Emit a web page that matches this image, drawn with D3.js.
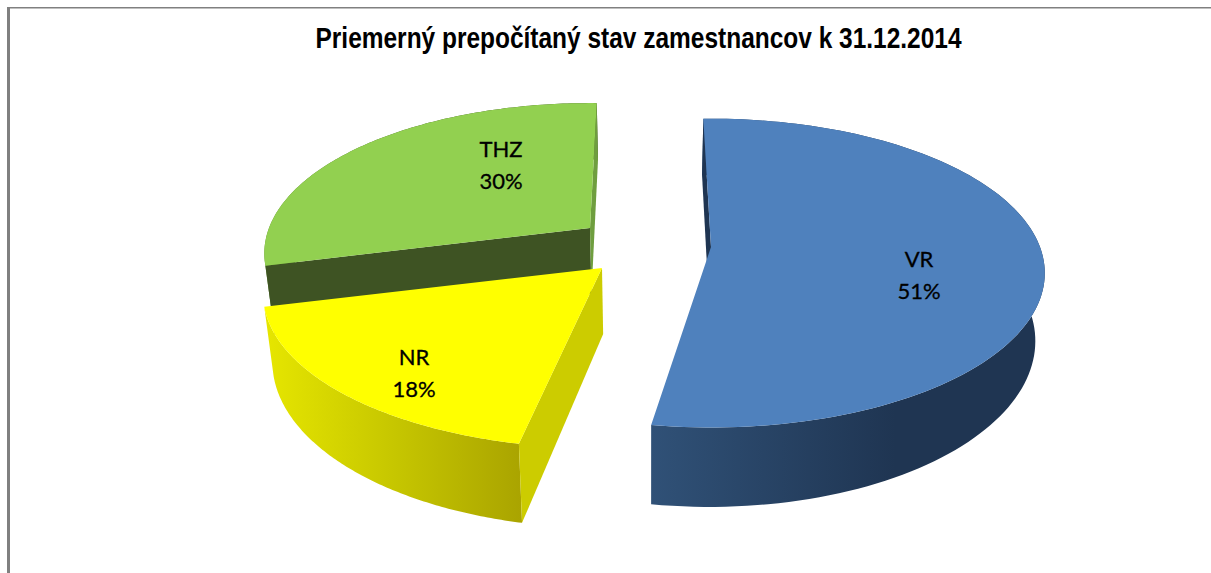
<!DOCTYPE html>
<html>
<head>
<meta charset="utf-8">
<script src="https://cdn.jsdelivr.net/npm/d3@7/dist/d3.min.js"></script>
<style>
  html, body { margin: 0; padding: 0; background: #fff; overflow: hidden; }
  svg { display: block; }
</style>
</head>
<body>
<script>
const titleText = "Priemerný prepočítaný stav zamestnancov k 31.12.2014";
const categories = ["VR", "NR", "THZ"];
const percentValues = [51, 18, 30];

const width = 1211, height = 573;

// Fake 3D view: perspective, wall height
const view = { persp: 0.169, depth: 66, vanishX: 650, lean: 0.024 };

// Exploded position of each slice, and small angle fixes to follow the Excel projection
const sliceFit = {
  VR:  { apex: [711, 247], radius: 329, tilt: 150, turn: 0.85, stretch: 1.026, label: [919, 275],
         top: "#4f81bd", cut: "#1f3552", side: "#1f3552", stops: ["#305177", "#1f3552", "#1f3552"], stopAt: [0, 0.62, 1], wallX: [651, 1045] },
  NR:  { apex: [602, 268], radius: 334, tilt: 150, turn: 5.65, stretch: 0.973, label: [414, 373],
         top: "#ffff00", cut: "#cccc00", side: "#cccc00", stops: ["#e6e600", "#c6c600", "#a9a300"], stopAt: [0, 0.5, 1], wallX: [265, 525] },
  THZ: { apex: [590, 228], radius: 321, tilt: 146, turn: 3.1, stretch: 0.969, label: [501, 165],
         top: "#92d050", cut: "#3e5323", side: "#6f9e3f", stops: ["#5c8a30", "#3e5323", "#3e5323"], stopAt: [0, 0.5, 1], wallX: [266, 597] }
};

const svg = d3.select("body").append("svg")
  .attr("width", width)
  .attr("height", height);

svg.append("rect").attr("width", width).attr("height", height).attr("fill", "#fff");

// Frame, only top and left edge are in the picture
svg.append("rect").attr("x", 7).attr("y", 7).attr("width", width - 7).attr("height", 1.5).attr("fill", "#808080");
svg.append("rect").attr("x", 7).attr("y", 7).attr("width", 3).attr("height", height - 7).attr("fill", "#808080");

svg.append("text")
  .attr("x", 638.5)
  .attr("y", 48)
  .attr("text-anchor", "middle")
  .attr("textLength", 646)
  .attr("lengthAdjust", "spacingAndGlyphs")
  .style("font-family", "'Liberation Sans Narrow', 'Liberation Sans', Arial, sans-serif")
  .style("font-weight", "bold")
  .style("font-size", "29px")
  .attr("fill", "#000")
  .text(titleText);

const pieLayout = d3.pie().sort(null).value(d => d.value);
const slices = pieLayout(categories.map((c, i) => ({ name: c, value: percentValues[i] })));

const line = d3.line().curve(d3.curveLinear);

function project (fit, angle, r) {
  const X = r * Math.sin(angle);
  const Y = -r * Math.cos(angle);
  const s = 1 / (1 - view.persp * Y);
  return { x: fit.apex[0] + fit.radius * X * s, y: fit.apex[1] + fit.tilt * Y * s, s: s };
}

// same point on the bottom of the wall
function drop (p) {
  return [p.x - (p.x - view.vanishX) * view.lean, p.y + view.depth * p.s];
}

const defs = svg.append("defs");

// back to front
const drawOrder = ["THZ", "VR", "NR"];

drawOrder.forEach(function (name) {
  const d = slices.find(s => s.data.name === name);
  const fit = sliceFit[name];
  const mid = (d.startAngle + d.endAngle) / 2;
  const a0 = mid + fit.turn * Math.PI / 180 + (d.startAngle - mid) * fit.stretch;
  const a1 = mid + fit.turn * Math.PI / 180 + (d.endAngle - mid) * fit.stretch;

  const arcPts = d3.range(0, 121).map(i => project(fit, a0 + (a1 - a0) * i / 120, 1));
  const apex = project(fit, 0, 0);
  const first = arcPts[0], last = arcPts[arcPts.length - 1];

  const grad = defs.append("linearGradient")
    .attr("id", "wall-" + name)
    .attr("gradientUnits", "userSpaceOnUse")
    .attr("x1", fit.wallX[0]).attr("x2", fit.wallX[1])
    .attr("y1", 0).attr("y2", 0);
  fit.stops.forEach((c, i) => grad.append("stop").attr("offset", fit.stopAt[i]).attr("stop-color", c));

  const g = svg.append("g").attr("class", "slice slice-" + name);

  // outer wall
  const wall = arcPts.map(p => [p.x, p.y]).concat(arcPts.slice().reverse().map(drop));
  g.append("path").attr("d", line(wall) + "Z").attr("fill", "url(#wall-" + name + ")");

  // the two cut faces, only when they look at the viewer
  const faceFrom = [[apex.x, apex.y], [first.x, first.y], drop(first), drop(apex)];
  const faceTo = [[apex.x, apex.y], [last.x, last.y], drop(last), drop(apex)];
  if (d3.polygonArea(faceFrom) > 0) {
    g.append("path").attr("d", line(faceFrom) + "Z").attr("fill", fit.cut);
  }
  if (d3.polygonArea(faceTo) < 0) {
    g.append("path").attr("d", line(faceTo) + "Z").attr("fill", fit.side);
  }

  // top
  const topPts = [[apex.x, apex.y]].concat(arcPts.map(p => [p.x, p.y]));
  g.append("path").attr("d", line(topPts) + "Z").attr("fill", fit.top);
});

const labels = svg.append("g").attr("class", "labels");
categories.forEach(function (name, i) {
  const fit = sliceFit[name];
  const t = labels.append("text")
    .attr("text-anchor", "middle")
    .style("font-family", "Lato, 'Open Sans', sans-serif")
    .style("font-size", "22px")
    .attr("fill", "#000")
    .attr("stroke", "#000")
    .attr("stroke-width", 0.3);
  t.append("tspan").attr("x", fit.label[0]).attr("y", fit.label[1] - 8).text(name);
  t.append("tspan").attr("x", fit.label[0]).attr("y", fit.label[1] + 24).text(percentValues[i] + "%");
});
</script>
</body>
</html>
